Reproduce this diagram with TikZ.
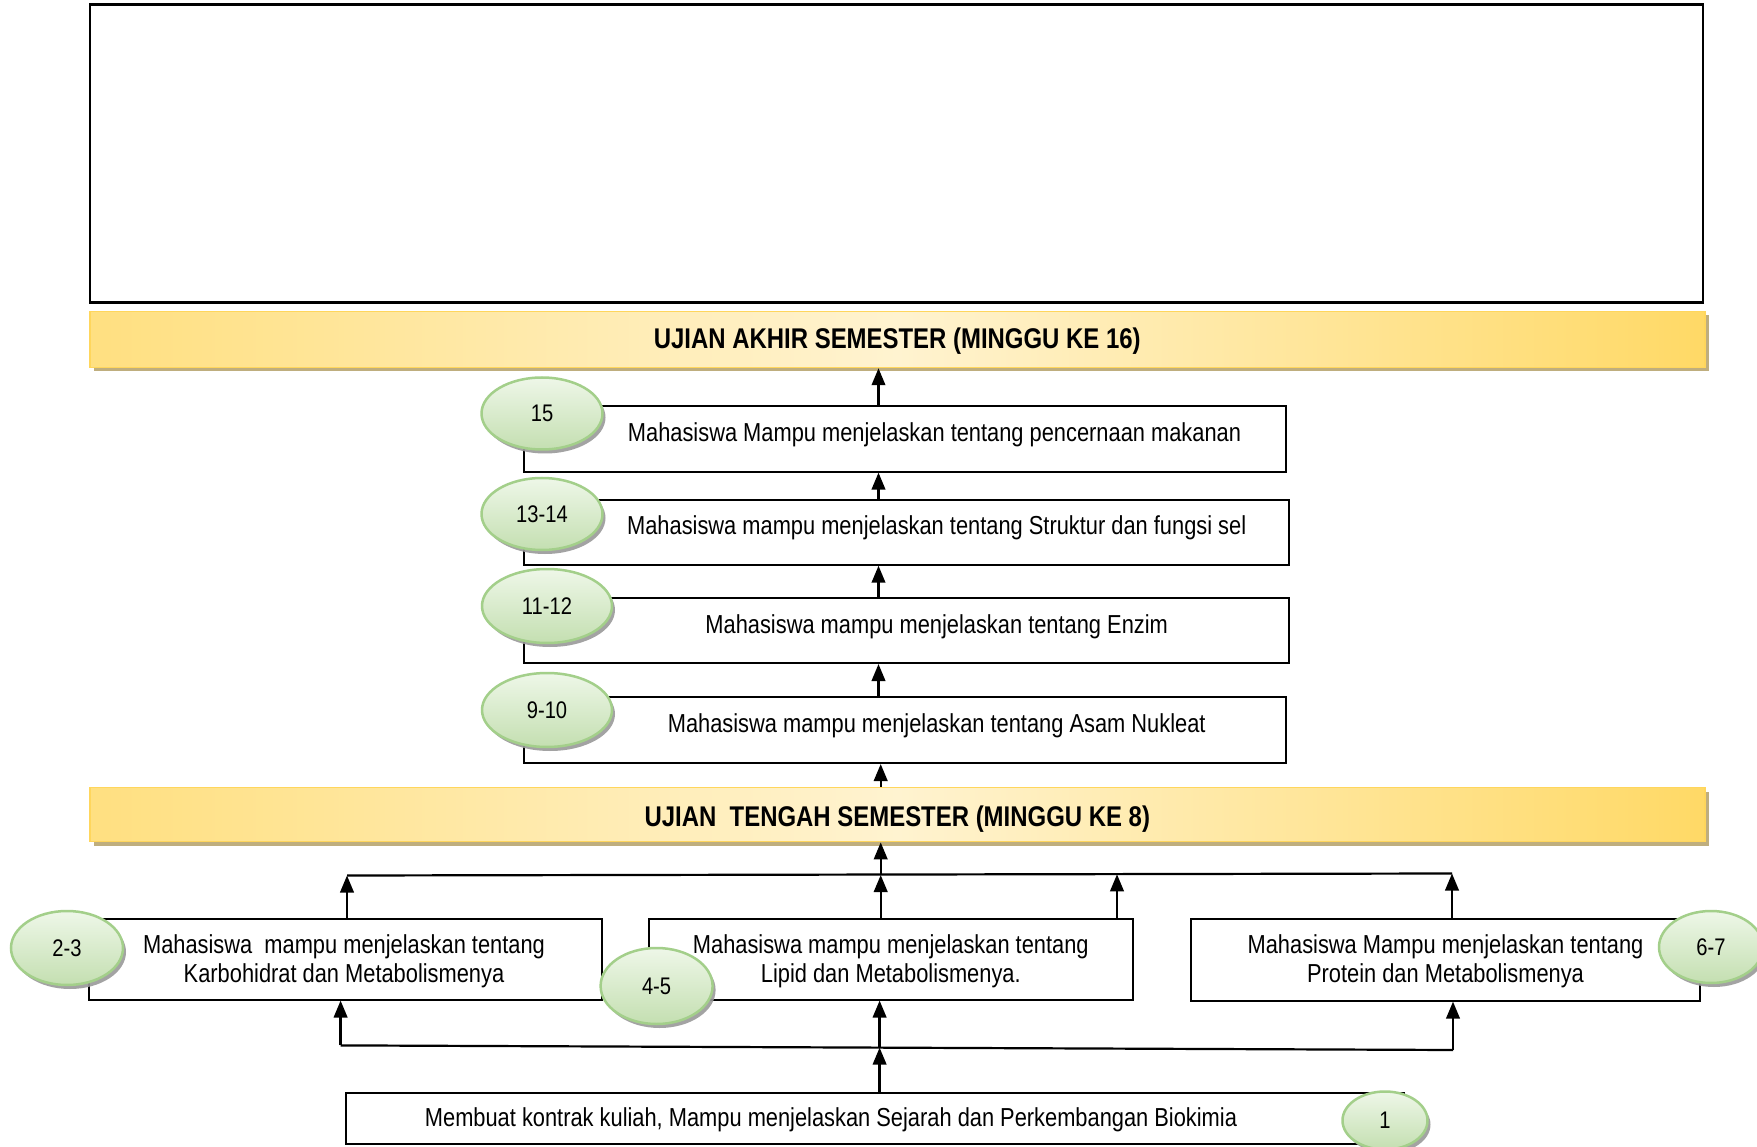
\documentclass[tikz,border=0pt]{standalone}
\usepackage{fontspec}
\setmainfont{Liberation Sans}[FakeStretch=0.84]
\usetikzlibrary{shapes.geometric,arrows.meta,shadows,calc}
\definecolor{ylwdark}{HTML}{FFD966}
\definecolor{ylwlight}{HTML}{FFF3D0}
\definecolor{ylwline}{HTML}{FFD65C}
\definecolor{ylwshadow}{HTML}{BFAE7E}
\definecolor{grtop}{HTML}{EEF7E8}
\definecolor{grbot}{HTML}{C4DFB1}
\definecolor{grline}{HTML}{A3CF8A}
\definecolor{shgray}{HTML}{9A9A9A}
\tikzset{
 boxnode/.style={draw=black, line width=2pt, rectangle, inner sep=0pt, fill=white},
 bandnode/.style={rectangle, draw=ylwline, line width=1.5pt, left color=ylwdark!75!ylwlight, right color=ylwdark, middle color=ylwlight,
   drop shadow={shadow xshift=4pt, shadow yshift=-4pt, fill=ylwshadow, opacity=1},
   font=\fontsize{28.5}{32}\selectfont\bfseries, inner sep=0pt},
 numnode/.style={ellipse, draw=grline, line width=2.5pt, top color=grtop, bottom color=grbot,
   drop shadow={shadow xshift=3pt, shadow yshift=-4pt, fill=shgray, opacity=0.9},
   inner sep=0pt, font=\fontsize{24}{26}\selectfont},
 txtnode/.style={font=\fontsize{26}{29}\selectfont, align=center, inner sep=0pt},
 conn/.style={line width=2.4pt, -{Triangle[length=17pt,width=13.5pt]}},
 plainline/.style={line width=2.2pt}
}
\begin{document}
\begin{tikzpicture}[x=1pt,y=-1pt]
\useasboundingbox (0,0) rectangle (1757,1147);
\fill[white] (0,0) rectangle (1757,1147);
% top frame
\node[draw=black, line width=2.5pt, rectangle, minimum width=1613pt, minimum height=298pt, inner sep=0pt] (top) at (896.3,153.5) {};
% bands
\node[bandnode, minimum width=1615pt, minimum height=56pt] (uas) at (897.3,339.5) {\raisebox{-9pt}[0pt][0pt]{UJIAN AKHIR SEMESTER (MINGGU KE 16)}};
\node[bandnode, minimum width=1615pt, minimum height=54pt] (uts) at (897.3,814.6) {\raisebox{-12pt}[0pt][0pt]{UJIAN~ TENGAH SEMESTER (MINGGU KE 8)}};
% upper boxes
\node[boxnode, minimum width=762pt, minimum height=66pt] (box15) at (905,438.6) {};
\node[boxnode, minimum width=764.6pt, minimum height=65pt] (box1314) at (906.3,532.2) {};
\node[boxnode, minimum width=764.6pt, minimum height=65pt] (box1112) at (906.3,630.5) {};
\node[boxnode, minimum width=762pt, minimum height=66pt] (box910) at (905,730) {};
\node[txtnode] (t15) at (934.5,434.5) {Mahasiswa Mampu menjelaskan tentang pencernaan makanan};
\node[txtnode] (t1314) at (936.7,527.5) {Mahasiswa mampu menjelaskan tentang Struktur dan fungsi sel};
\node[txtnode] (t1112) at (936.7,626.5) {Mahasiswa mampu menjelaskan tentang Enzim};
\node[txtnode] (t910) at (936.7,726) {Mahasiswa mampu menjelaskan tentang Asam Nukleat};
% middle row boxes
\node[boxnode, minimum width=513.2pt, minimum height=80.7pt] (karbo) at (345.1,959.2) {};
\node[boxnode, minimum width=484pt, minimum height=80.7pt] (lipid) at (890.8,959.2) {};
\node[boxnode, minimum width=509pt, minimum height=81.8pt] (protein) at (1445.5,959.7) {};
\node[txtnode] (tkarbo) at (344,961.5) {Mahasiswa~ mampu menjelaskan tentang\\Karbohidrat dan Metabolismenya};
\node[txtnode] (tlipid) at (890.8,961.5) {Mahasiswa mampu menjelaskan tentang\\Lipid dan Metabolismenya.};
\node[txtnode] (tprotein) at (1445.5,961.5) {Mahasiswa Mampu menjelaskan tentang\\Protein dan Metabolismenya};
% bottom box
\node[boxnode, minimum width=1058pt, minimum height=51.5pt] (box1) at (875,1118.3) {};
\node[txtnode] (t1) at (831,1120) {Membuat kontrak kuliah, Mampu menjelaskan Sejarah dan Perkembangan Biokimia};
% vertical chain connectors
\coordinate (ax) at (878.5,0);
\coordinate (bx) at (880.7,0);
\draw[conn] (box15.north -| ax) -- (uas.south -| ax);
\draw[conn] (box1314.north -| ax) -- (box15.south -| ax);
\draw[conn] (box1112.north -| ax) -- (box1314.south -| ax);
\draw[conn] (box910.north -| ax) -- (box1112.south -| ax);
\draw[conn] (uts.north -| bx) -- (box910.south -| bx);
% upper collector
\coordinate (j1) at (347,875.5);
\coordinate (jm) at (880.7,875);
\coordinate (jq) at (1117,874.3);
\coordinate (jr) at (1452,873.5);
\draw[plainline] (j1) -- (jr);
\draw[conn] (karbo.north -| j1) -- (j1);
\draw[conn] (lipid.north -| jm) -- (jm);
\draw[conn] (lipid.north -| jq) -- (jq);
\draw[conn] (protein.north -| jr) -- (jr);
\draw[conn] (jm) -- (uts.south -| jm);
% lower distributor
\coordinate (k1) at (340.6,1045.4);
\coordinate (km) at (879.6,1047.6);
\coordinate (kr) at (1453,1050);
\draw[plainline] (k1) -- (kr);
\draw[conn] (k1) -- (karbo.south -| k1);
\draw[conn] (km) -- (lipid.south -| km);
\draw[conn] (kr) -- (protein.south -| kr);
\draw[conn] (box1.north -| km) -- (km);
% number ellipses
\node[numnode, minimum width=121pt, minimum height=72pt] (e15) at (542,413.5) {15};
\node[numnode, minimum width=121pt, minimum height=72pt] (e1314) at (542,514) {13-14};
\node[numnode, minimum width=130pt, minimum height=74pt] (e1112) at (547,606) {11-12};
\node[numnode, minimum width=130pt, minimum height=74pt] (e910) at (547,710) {9-10};
\node[numnode, minimum width=112pt, minimum height=74pt] (e23) at (67,948) {2-3};
\node[numnode, minimum width=112pt, minimum height=76pt] (e45) at (656.6,986) {4-5};
\node[numnode, minimum width=104pt, minimum height=72pt] (e67) at (1711,947) {6-7};
\node[numnode, minimum width=85pt, minimum height=58pt] (e1) at (1385,1120.5) {1};
\end{tikzpicture}
\end{document}
